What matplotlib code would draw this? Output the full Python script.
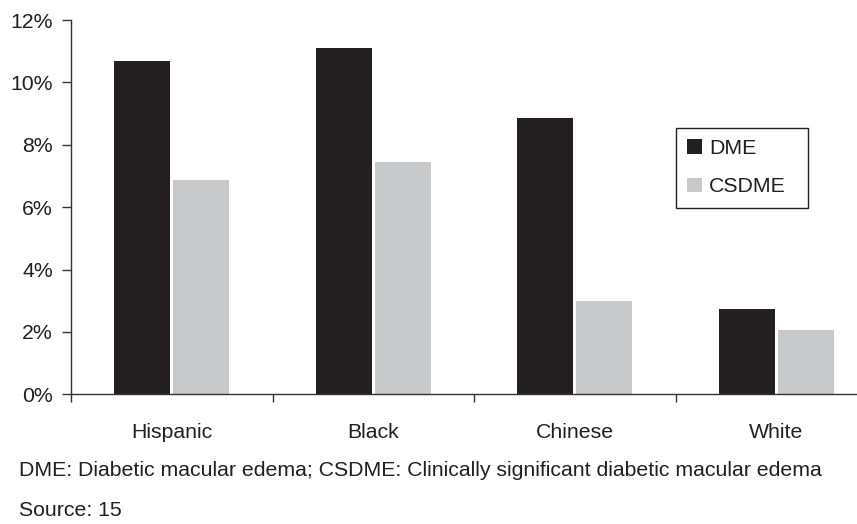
import matplotlib
matplotlib.use("Agg")
import matplotlib.pyplot as plt
import numpy as np
from matplotlib.ticker import FuncFormatter
from matplotlib.patches import Rectangle

categories = ["Hispanic", "Black", "Chinese", "White"]
dme = [10.69, 11.10, 8.86, 2.73]
csdme = [6.87, 7.45, 2.99, 2.06]
yticks = [0, 2, 4, 6, 8, 10, 12]
footnote = "DME: Diabetic macular edema; CSDME: Clinically significant diabetic macular edema"
source = "Source: 15"

plt.rcParams['font.family'] = ['Liberation Sans', 'DejaVu Sans']
FS = 15.3
TXT = '#231f20'

W, H = 857, 524
ax_l, ax_b, ax_t = 71, 394.3, 20
fig = plt.figure(figsize=(W/100, H/100), dpi=100)
ax = fig.add_axes([ax_l/W, 1 - ax_b/H, 1 - ax_l/W, (ax_b - ax_t)/H])

x = np.arange(len(categories))
w = 0.278
off = 0.146
ax.bar(x - off, dme, width=w, color="#231f20", label="DME")
ax.bar(x + off, csdme, width=w, color="#c8c9cb", label="CSDME")

ax.set_xlim(-0.5, 3.40)
ax.set_ylim(0, 12)
ax.set_yticks(yticks)
ax.yaxis.set_major_formatter(FuncFormatter(lambda v, p: f"{int(v)}%"))

ax.set_xticks(np.arange(-0.5, 3.5, 1.0))
ax.set_xticklabels([])
ax.set_xticks(x, minor=True)
ax.set_xticklabels(categories, minor=True)
ax.tick_params(axis='x', which='major', direction='out', length=5.5, width=1, color='#333333')
ax.tick_params(axis='x', which='minor', length=0, pad=20.5, labelsize=FS, labelcolor=TXT)
ax.tick_params(axis='y', direction='out', length=6.5, width=1, color='#333333', pad=6.5,
               labelsize=FS, labelcolor=TXT)

for s in ['top', 'right']:
    ax.spines[s].set_visible(False)
for s in ['left', 'bottom']:
    ax.spines[s].set_color('#333333')
    ax.spines[s].set_linewidth(1)

# legend box (pixel extents of the reference frame)
bx0, bx1, by0, by1 = 676, 808, 128, 208
aw, ah = W - ax_l, ax_b - ax_t
ax.add_patch(Rectangle(((bx0 - ax_l)/aw, (ax_b - by1)/ah), (bx1 - bx0)/aw, (by1 - by0)/ah,
                       transform=ax.transAxes, fill=True, facecolor='white',
                       edgecolor='#231f20', linewidth=1, zorder=4))
leg = ax.legend(loc='upper left', bbox_to_anchor=((bx0 - ax_l)/aw, (ax_b - by0)/ah),
                borderaxespad=0, frameon=False,
                fontsize=FS, handlelength=0.7, handleheight=0.7, handletextpad=0.37,
                labelspacing=0.93, borderpad=0.5, labelcolor=TXT)
leg.set_zorder(5)

fig.text(19/W, 1 - 471/H, footnote, fontsize=FS, va='center', ha='left', color=TXT)
fig.text(19/W, 1 - 510/H, source, fontsize=FS, va='center', ha='left', color=TXT)

fig.savefig("out.png", dpi=100)
